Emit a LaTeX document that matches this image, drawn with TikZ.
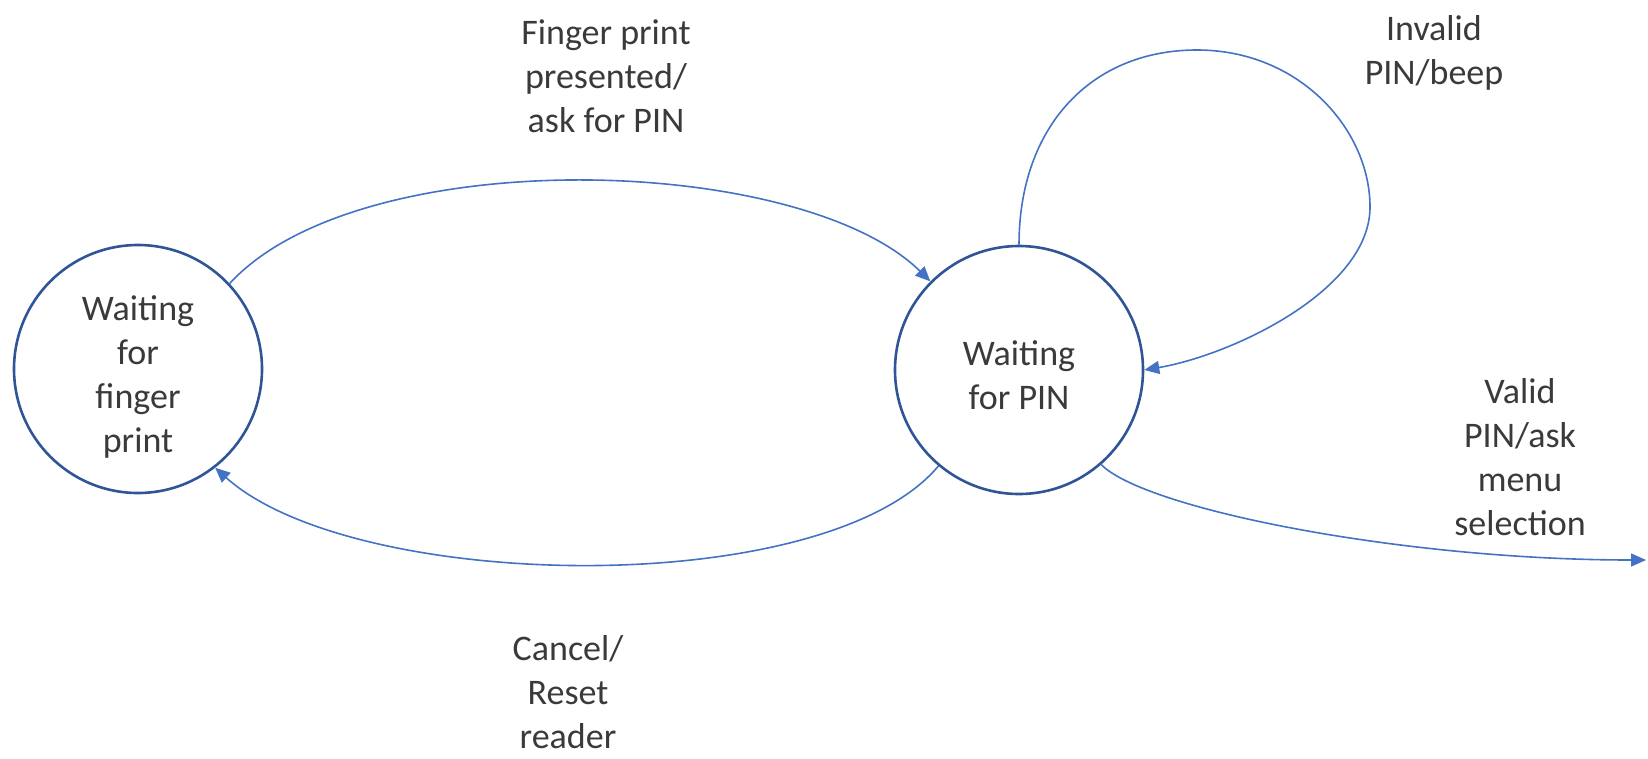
\documentclass[tikz,border=0pt]{standalone}
\usepackage{fontspec}
\setmainfont{Carlito}
\usetikzlibrary{arrows.meta}
\definecolor{ringblue}{HTML}{2F5597}
\definecolor{edgeblue}{HTML}{4472C4}
\definecolor{inkgrey}{HTML}{3A3A3A}
\tikzset{
  state/.style={circle, draw=ringblue, line width=2.6pt, minimum size=248pt,
    inner sep=0pt},
  statetext/.style={align=center, text=inkgrey, inner sep=0pt,
    font=\fontsize{36pt}{44pt}\selectfont},
  edgelabel/.style={align=center, text=inkgrey, inner sep=0pt,
    font=\fontsize{36pt}{44pt}\selectfont},
  trans/.style={draw=edgeblue, line width=1.6pt,
    -{Triangle[length=15pt,width=13pt]}, color=edgeblue},
}
\begin{document}
\begin{tikzpicture}[x=1pt,y=-1pt]
\useasboundingbox (0,0) rectangle (1648,758);

% states (circle outlines and their text)
\node[state] (F) at (138,369) {};
\node[state] (P) at (1019,370) {};
\node[statetext] (Ft) at (138,377) {Waiting\\for\\finger\\print};
\node[statetext] (Pt) at (1019,375) {Waiting\\for PIN};
\coordinate (out) at (1646,560);

% transitions
\draw[trans] (F.43) .. controls +(130,-142) and +(-130,-128) .. (P.135);
\draw[trans] (P.230) .. controls +(-113,135) and +(139,125) .. (F.308);
\draw[trans] (P.90) .. controls +(0,-117) and +(-107,0) .. (1197,50)
  .. controls +(103,0) and +(0,-77) .. (1370,207)
  .. controls +(0,83) and +(88,-15) .. (P.0);
\draw[trans] (P.311) .. controls +(43,44) and +(-246,0) .. (out);

% labels
\node[edgelabel] (lfp) at (606,76) {Finger print\\presented/\\ask for PIN};
\node[edgelabel] (linv) at (1434,53) {Invalid\\PIN/beep};
\node[edgelabel] (lval) at (1520,457) {Valid\\PIN/ask\\menu\\selection};
\node[edgelabel] (lcan) at (568,692) {Cancel/\\Reset\\reader};
\end{tikzpicture}
\end{document}
